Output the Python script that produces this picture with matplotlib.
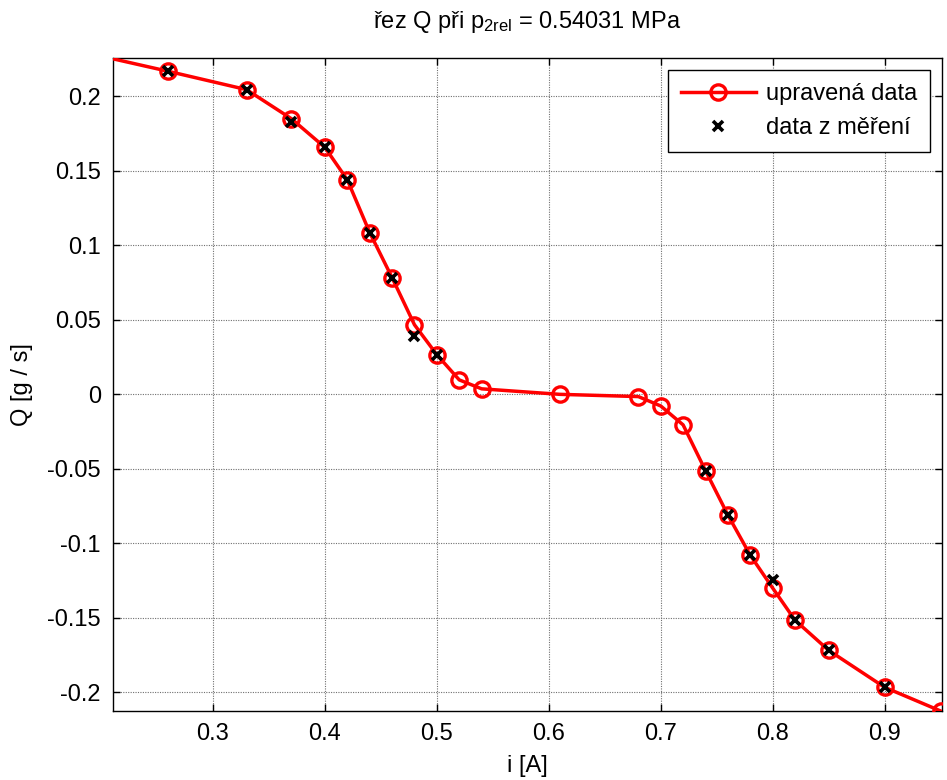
import matplotlib
matplotlib.use("Agg")
import matplotlib.pyplot as plt
from matplotlib.ticker import FixedLocator

plt.rcParams['font.family'] = ['Liberation Sans', 'DejaVu Sans']
plt.rcParams['mathtext.fontset'] = 'custom'
plt.rcParams['mathtext.rm'] = 'Liberation Sans'
plt.rcParams['mathtext.it'] = 'Liberation Sans'

# fitted ("upravená data") points
i_fit = [0.21, 0.26, 0.33, 0.37, 0.40, 0.42, 0.44, 0.46, 0.48, 0.50, 0.52, 0.54,
         0.61, 0.68, 0.70, 0.72, 0.74, 0.76, 0.78, 0.80, 0.82, 0.85, 0.90, 0.95]
q_fit = [0.2253, 0.2168, 0.2045, 0.1850, 0.1657, 0.1440, 0.1086, 0.0783, 0.0467,
         0.0266, 0.0097, 0.0037, 0.0000, -0.0015, -0.0078, -0.0205, -0.0512,
         -0.0810, -0.1080, -0.1300, -0.1516, -0.1718, -0.1966, -0.2125]

# measured ("data z měření") points
i_meas = [0.26, 0.33, 0.37, 0.40, 0.42, 0.44, 0.46, 0.48, 0.50,
          0.74, 0.76, 0.78, 0.80, 0.82, 0.85, 0.90]
q_meas = [0.2168, 0.2045, 0.1830, 0.1657, 0.1440, 0.1086, 0.0783, 0.0393, 0.0266,
          -0.0512, -0.0810, -0.1080, -0.1247, -0.1516, -0.1718, -0.1966]

xticks = [0.3, 0.4, 0.5, 0.6, 0.7, 0.8, 0.9]
xticklabels = ['0.3', '0.4', '0.5', '0.6', '0.7', '0.8', '0.9']
yticks = [-0.2, -0.15, -0.1, -0.05, 0.0, 0.05, 0.1, 0.15, 0.2]
yticklabels = ['-0.2', '-0.15', '-0.1', '-0.05', '0', '0.05', '0.1', '0.15', '0.2']

FS = 17

fig = plt.figure(figsize=(9.47, 7.8), dpi=100)
ax = fig.add_axes([0.1197, 0.0885, 0.8747, 0.8367])

ax.plot(i_fit, q_fit, '-', color='red', lw=2.5, marker='o', ms=11,
        mfc='none', mec='red', mew=2.4, markevery=list(range(1, len(i_fit))),
        label='upravená data', zorder=3)
ax.plot(i_meas, q_meas, 'x', color='black', ms=6.5, mew=2.6, ls='none',
        label='data z měření', zorder=4)

ax.set_xlim(0.211, 0.951)
ax.set_ylim(-0.2125, 0.2255)
ax.xaxis.set_major_locator(FixedLocator(xticks))
ax.yaxis.set_major_locator(FixedLocator(yticks))
ax.set_xticklabels(xticklabels)
ax.set_yticklabels(yticklabels)
ax.tick_params(direction='in', length=5, width=1, top=True, right=True,
               labelsize=FS, pad=9)
ax.grid(True, color='#707070', linestyle=(0, (1, 1.2)), linewidth=0.8)
for s in ax.spines.values():
    s.set_linewidth(1.0)

ax.set_xlabel('i [A]', fontsize=FS, labelpad=7)
ax.set_ylabel('Q [g / s]', fontsize=FS, labelpad=10)
ax.set_title(r'řez Q při p$_{\mathrm{2rel}}$ = 0.54031 MPa', fontsize=FS, pad=22)

leg = ax.legend(loc='upper right', fontsize=FS, frameon=True, fancybox=False,
                edgecolor='black', framealpha=1, borderaxespad=0.5,
                handlelength=3.2, handletextpad=0.4, borderpad=0.55,
                labelspacing=0.5)
leg.get_frame().set_linewidth(1.0)

fig.savefig('out.png', dpi=100)
